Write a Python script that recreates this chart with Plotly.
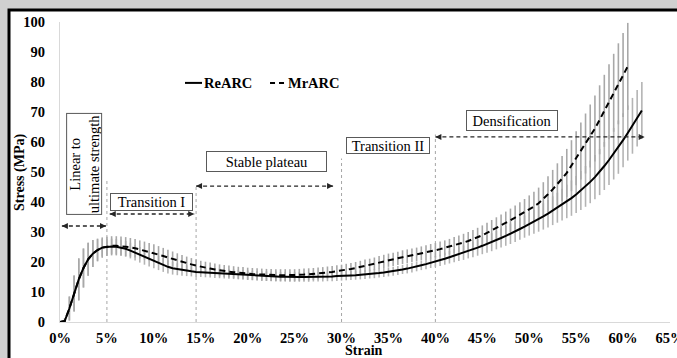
import plotly.graph_objects as go

# ---------------- data ----------------
strain_pct = [
    0.0, 0.5, 1.0, 1.5, 2.0, 2.5, 3.0, 3.5, 4.0, 4.5,
    5.0, 5.5, 6.0, 6.5, 7.0, 7.5, 8.0, 8.5, 9.0, 9.5,
    10.0, 10.5, 11.0, 11.5, 12.0, 12.5, 13.0, 13.5, 14.0, 14.5,
    15.0, 15.5, 16.0, 16.5, 17.0, 17.5, 18.0, 18.5, 19.0, 19.5,
    20.0, 20.5, 21.0, 21.5, 22.0, 22.5, 23.0, 23.5, 24.0, 24.5,
    25.0, 25.5, 26.0, 26.5, 27.0, 27.5, 28.0, 28.5, 29.0, 29.5,
    30.0, 30.5, 31.0, 31.5, 32.0, 32.5, 33.0, 33.5, 34.0, 34.5,
    35.0, 35.5, 36.0, 36.5, 37.0, 37.5, 38.0, 38.5, 39.0, 39.5,
    40.0, 40.5, 41.0, 41.5, 42.0, 42.5, 43.0, 43.5, 44.0, 44.5,
    45.0, 45.5, 46.0, 46.5, 47.0, 47.5, 48.0, 48.5, 49.0, 49.5,
    50.0, 50.5, 51.0, 51.5, 52.0, 52.5, 53.0, 53.5, 54.0, 54.5,
    55.0, 55.5, 56.0, 56.5, 57.0, 57.5, 58.0, 58.5, 59.0, 59.5,
    60.0, 60.5, 61.0, 61.5, 62.0,
]

rearc_stress = [
    0.0, 0.3, 4.5, 9.5, 14.2, 18.0, 20.9, 22.8, 24.0, 24.8,
    25.1, 25.2, 25.1, 24.8, 24.4, 23.8, 23.1, 22.4, 21.7, 21.1,
    20.4, 19.7, 19.0, 18.4, 17.9, 17.6, 17.3, 17.1, 16.9, 16.7,
    16.6, 16.5, 16.4, 16.3, 16.2, 16.1, 16.0, 15.9, 15.8, 15.7,
    15.6, 15.5, 15.4, 15.3, 15.3, 15.2, 15.2, 15.1, 15.1, 15.0,
    15.0, 15.0, 15.0, 15.0, 15.1, 15.1, 15.1, 15.2, 15.2, 15.3,
    15.3, 15.4, 15.5, 15.6, 15.7, 15.8, 16.0, 16.1, 16.3, 16.5,
    16.7, 16.9, 17.2, 17.5, 17.8, 18.1, 18.5, 18.9, 19.3, 19.7,
    20.2, 20.6, 21.1, 21.6, 22.1, 22.6, 23.1, 23.7, 24.2, 24.8,
    25.4, 26.0, 26.6, 27.3, 28.0, 28.7, 29.4, 30.2, 31.0, 31.8,
    32.6, 33.4, 34.3, 35.2, 36.1, 37.1, 38.1, 39.1, 40.2, 41.3,
    42.5, 43.8, 45.2, 46.7, 48.3, 50.0, 52.0, 54.0, 56.1, 58.3,
    60.6, 63.0, 65.4, 67.9, 70.5,
]

rearc_sd = [
    0.0, 1.0, 4.0, 6.0, 7.0, 6.5, 5.5, 4.5, 3.6, 3.0,
    2.7, 2.6, 2.6, 2.6, 2.6, 2.6, 2.6, 2.6, 2.6, 2.6,
    2.5, 2.4, 2.3, 2.2, 2.1, 2.0, 1.9, 1.8, 1.7, 1.7,
    1.6, 1.6, 1.6, 1.6, 1.6, 1.6, 1.6, 1.6, 1.6, 1.6,
    1.6, 1.6, 1.6, 1.6, 1.6, 1.6, 1.6, 1.6, 1.6, 1.6,
    1.6, 1.6, 1.6, 1.6, 1.6, 1.6, 1.6, 1.6, 1.6, 1.6,
    1.5, 1.5, 1.5, 1.5, 1.5, 1.5, 1.5, 1.5, 1.5, 1.5,
    1.5, 1.5, 1.5, 1.5, 1.6, 1.6, 1.6, 1.6, 1.7, 1.7,
    1.8, 1.9, 2.0, 2.1, 2.2, 2.3, 2.4, 2.5, 2.6, 2.7,
    2.8, 2.9, 3.0, 3.1, 3.2, 3.3, 3.4, 3.5, 3.6, 3.7,
    3.8, 4.0, 4.2, 4.4, 4.6, 4.8, 5.0, 5.3, 5.6, 5.9,
    6.2, 6.5, 6.8, 7.1, 7.4, 7.7, 8.0, 8.3, 8.6, 8.9,
    9.0, 9.2, 9.3, 9.4, 9.5,
]

mrarc_stress = [
    0.0, 0.3, 4.5, 9.5, 14.2, 18.0, 20.9, 22.8, 24.0, 24.8,
    25.2, 25.4, 25.4, 25.3, 25.1, 24.9, 24.6, 24.2, 23.8, 23.4,
    23.0, 22.5, 22.0, 21.5, 21.0, 20.5, 20.0, 19.6, 19.2, 18.8,
    18.4, 18.1, 17.8, 17.5, 17.2, 17.0, 16.8, 16.6, 16.4, 16.3,
    16.1, 16.0, 15.9, 15.8, 15.7, 15.7, 15.6, 15.6, 15.6, 15.6,
    15.6, 15.7, 15.8, 15.9, 16.0, 16.2, 16.3, 16.5, 16.7, 16.9,
    17.1, 17.4, 17.7, 18.0, 18.3, 18.7, 19.0, 19.4, 19.8, 20.2,
    20.6, 20.9, 21.2, 21.6, 21.9, 22.2, 22.5, 22.9, 23.2, 23.6,
    23.9, 24.3, 24.7, 25.1, 25.6, 26.0, 26.5, 27.0, 27.6, 28.2,
    28.9, 29.7, 30.5, 31.3, 32.1, 33.0, 33.9, 34.8, 35.7, 36.6,
    37.6, 38.5, 39.6, 41.0, 42.6, 44.2, 45.9, 47.8, 49.7, 52.1,
    54.6, 57.0, 59.5, 62.0, 64.5, 67.4, 70.4, 73.4, 76.4, 79.4,
    82.3, 85.2,
]

mrarc_sd = [
    0.0, 1.0, 4.0, 6.0, 7.0, 6.5, 5.5, 4.5, 3.8, 3.4,
    3.2, 3.2, 3.2, 3.2, 3.2, 3.1, 3.1, 3.0, 3.0, 2.9,
    2.9, 2.8, 2.7, 2.6, 2.5, 2.4, 2.3, 2.2, 2.1, 2.0,
    2.0, 2.0, 2.0, 2.0, 2.0, 2.0, 2.0, 2.0, 2.0, 2.0,
    2.0, 2.0, 2.0, 2.0, 2.0, 2.0, 2.0, 2.0, 2.0, 2.0,
    2.0, 2.0, 2.0, 2.0, 2.0, 2.0, 2.0, 2.0, 2.0, 2.0,
    2.0, 2.0, 2.0, 2.0, 2.1, 2.1, 2.1, 2.1, 2.2, 2.2,
    2.2, 2.2, 2.2, 2.3, 2.3, 2.3, 2.3, 2.3, 2.4, 2.4,
    2.4, 2.5, 2.5, 2.6, 2.7, 2.8, 2.9, 3.0, 3.1, 3.2,
    3.3, 3.4, 3.5, 3.6, 3.7, 3.8, 3.9, 4.0, 4.2, 4.4,
    4.6, 4.9, 5.2, 5.6, 6.0, 6.5, 7.0, 7.5, 8.0, 8.5,
    9.0, 9.5, 10.0, 10.5, 11.0, 11.5, 12.0, 12.5, 13.0, 13.5,
    14.0, 14.5,
]

x_tick_vals = [0, 5, 10, 15, 20, 25, 30, 35, 40, 45, 50, 55, 60, 65]
x_tick_text = ["0%", "5%", "10%", "15%", "20%", "25%", "30%", "35%",
               "40%", "45%", "50%", "55%", "60%", "65%"]
y_tick_vals = [0, 10, 20, 30, 40, 50, 60, 70, 80, 90, 100]

series_names = ["ReARC", "MrARC"]

# ---------------- figure ----------------
SERIF = "Liberation Serif, Times New Roman, serif"
fig = go.Figure()

x_re = strain_pct[:len(rearc_stress)]
x_mr = strain_pct[:len(mrarc_stress)]

# error bars first (so the mean lines sit on top)
fig.add_trace(go.Scatter(
    x=x_re, y=rearc_stress, mode="markers",
    marker=dict(size=1, color="rgba(0,0,0,0)"),
    error_y=dict(type="data", array=rearc_sd, visible=True,
                 color="#b4b4b4", thickness=1.6, width=0),
    showlegend=False, hoverinfo="skip"))
fig.add_trace(go.Scatter(
    x=x_mr, y=mrarc_stress, mode="markers",
    marker=dict(size=1, color="rgba(0,0,0,0)"),
    error_y=dict(type="data", array=mrarc_sd, visible=True,
                 color="#a8a8a8", thickness=1.6, width=0),
    showlegend=False, hoverinfo="skip"))

fig.add_trace(go.Scatter(
    x=x_re, y=rearc_stress, mode="lines", name=series_names[0],
    line=dict(color="black", width=2), showlegend=False))
fig.add_trace(go.Scatter(
    x=x_mr, y=mrarc_stress, mode="lines", name=series_names[1],
    line=dict(color="black", width=2, dash="6px,4px"), showlegend=False))

shapes = []
# outer frame (grey border + black line)
shapes.append(dict(type="rect", xref="paper", yref="paper",
                   x0=-0.0836, x1=2, y0=-1, y1=1.04,
                   line=dict(color="black", width=3),
                   fillcolor="white", layer="below"))
# vertical dashed phase boundaries
for xv, ytop in [(5, 47), (14.5, 46), (30, 54.5), (40, 62.5)]:
    shapes.append(dict(type="line", xref="x", yref="y", x0=xv, x1=xv,
                       y0=0, y1=ytop,
                       line=dict(color="#a6a6a6", width=1, dash="3px,3px"),
                       layer="below"))

# dashed double arrows
arrows = [(0.2, 4.9, 32), (5.3, 14.3, 36), (14.5, 29.1, 45.3), (40.0, 62.3, 61.7)]
annotations = []
for xa, xb, yv in arrows:
    shapes.append(dict(type="line", xref="x", yref="y", x0=xa, x1=xb,
                       y0=yv, y1=yv,
                       line=dict(color="#262626", width=1.3, dash="4px,3px")))
    for xt, off in [(xa, 7), (xb, -7)]:
        annotations.append(dict(x=xt, y=yv, xref="x", yref="y", ax=off, ay=0,
                                text="", showarrow=True, arrowhead=2,
                                arrowsize=1, arrowwidth=1.2,
                                arrowcolor="#262626", standoff=0))

box_font = dict(family=SERIF, size=14.5, color="black")
boxes = [
    ("Transition I", 9.75, 40.0, 81, 16, 0),
    ("Stable plateau", 22.0, 53.5, 119, 19, 0),
    ("Transition II", 34.95, 58.8, 82, 15, 0),
    ("Densification", 48.16, 67.2, 90, 19, 0),
    ("Linear to<br>ultimate strength", 2.56, 52.7, 100, 34, -90),
]
for txt, xv, yv, w, h, ang in boxes:
    annotations.append(dict(x=xv, y=yv, xref="x", yref="y", text=txt,
                            showarrow=False, font=box_font,
                            bordercolor="#595959", borderwidth=1,
                            borderpad=0, bgcolor="white",
                            width=w, height=h, textangle=ang))

# legend (drawn like the original: short line sample + bold label)
legend_font = dict(family=SERIF, size=14.5, color="black", weight="bold")
legend_items = [
    (series_names[0], 0.2049, 0.2328, "solid", 0.2328),
    (series_names[1], 0.3443, 0.3689, "5px,4px", 0.3705),
]
for name, lx0, lx1, dash, tx in legend_items:
    shapes.append(dict(type="line", xref="paper", yref="paper",
                       x0=lx0, x1=lx1, y0=0.797, y1=0.797,
                       line=dict(color="black", width=2, dash=dash)))
    annotations.append(dict(x=tx, y=0.797, xref="paper", yref="paper",
                            xanchor="left", yanchor="middle",
                            text=name, showarrow=False, font=legend_font))

# axis titles
annotations.append(dict(x=-0.0656, y=0.5, xref="paper", yref="paper",
                        xanchor="center", yanchor="middle",
                        text="<b>Stress (MPa)</b>", textangle=-90,
                        showarrow=False,
                        font=dict(family=SERIF, size=14, color="black")))
annotations.append(dict(x=0.499, y=-0.096, xref="paper", yref="paper",
                        xanchor="center", yanchor="middle",
                        text="<b>Strain</b>", showarrow=False,
                        font=dict(family=SERIF, size=14, color="black")))

fig.update_layout(
    width=677, height=358,
    margin=dict(l=60, r=7, t=22, b=36),
    paper_bgcolor="#d0d0d0", plot_bgcolor="white",
    shapes=shapes, annotations=annotations,
    showlegend=False,
    xaxis=dict(range=[0, 65], tickmode="array", tickvals=x_tick_vals,
               ticktext=x_tick_text, showgrid=False, zeroline=False,
               showline=True, linecolor="#d9d9d9", linewidth=1,
               automargin=False,
               ticks="", ticklabelstandoff=3, ticklabeloverflow="allow",
               tickfont=dict(family=SERIF, size=14.5, color="black",
                             weight="bold")),
    yaxis=dict(range=[0, 100], tickmode="array", tickvals=y_tick_vals,
               showgrid=False, zeroline=False,
               showline=True, linecolor="#d9d9d9", linewidth=1,
               automargin=False,
               ticks="", ticklabelstandoff=11,
               tickfont=dict(family=SERIF, size=14.5, color="black",
                             weight="bold")),
)

fig.write_html("out.html",
               config={"displayModeBar": False},
               post_script="document.body.style.margin='0';"
                           "document.body.style.overflow='hidden';")
